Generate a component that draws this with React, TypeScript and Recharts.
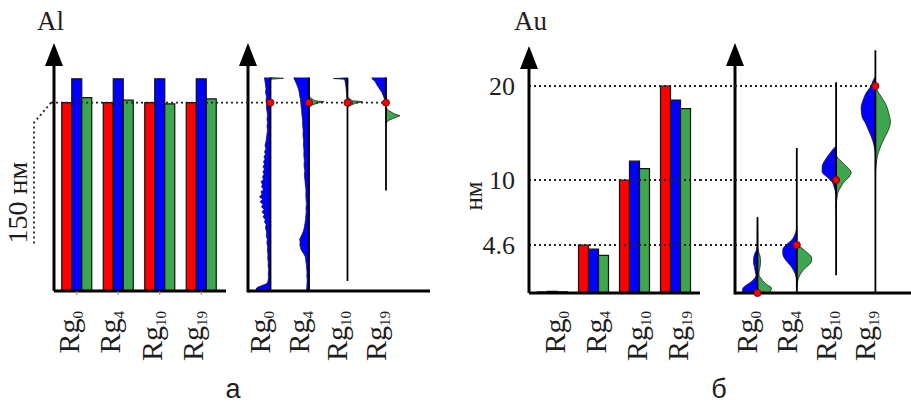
import React from "react";
import { BarChart, Bar, ComposedChart, Area, XAxis, YAxis, ReferenceLine, ReferenceDot } from "recharts";

const RED = "#ff0000";
const BLUE = "#0000ff";
const GREEN = "#3da64e";
const INK = "#1e1e1e";
const SERIF = "'Liberation Serif', 'DejaVu Serif', serif";
const SANS = "'Liberation Sans', Arial, sans-serif";
const DOTTED = { stroke: "#222", strokeWidth: 1.8, strokeDasharray: "2 3" };

const RG_SUBS = ["0", "4", "10", "19"];

// Al, nm
const AL_RED = [150, 150, 150, 150];
const AL_BLUE = [169, 169, 169, 169];
const AL_GREEN = [154, 152, 149, 153];
const AL_MEDIAN = [150, 150, 150, 150];
const AL_RANGE_LO = [0, 0, 8, 80];
const AL_RANGE_HI = [170, 170, 169.5, 170];

// violin halves: [nm, half width]
const AL_BLUE_SHAPES: [number, number][][] = [
  [[0, 14], [1.5, 14.5], [3, 13], [4.5, 8], [6, 3.5], [8, 2.5], [11, 2], [14, 2.2], [17, 1.8], [20, 2.4], [23, 2.2], [26, 2.8], [29, 2.5], [32, 3.2], [35, 2.8], [38, 3.6], [41, 3.2], [44, 4.2], [47, 3.8], [50, 5], [53, 4.4], [55, 6], [57, 5.2], [59, 7.5], [61, 6], [63, 8.5], [65, 6.5], [67, 9], [69, 7.5], [71, 10.5], [73, 8], [75, 11], [77, 8.5], [79, 9.5], [81, 7], [83, 9], [85, 8], [87, 9.5], [89, 7], [91, 8], [93, 6.5], [95, 7.5], [97, 6], [99, 7.5], [101, 6], [103, 7], [105, 5.5], [107, 6.5], [109, 5], [111, 6], [113, 4.5], [116, 5.5], [119, 4.5], [122, 4], [125, 3.5], [128, 3], [131, 3.5], [134, 3], [137, 3.5], [140, 3], [143, 3.5], [146, 4], [149, 4], [152, 4.5], [155, 4], [158, 5], [161, 4.5], [164, 5], [167, 5.5], [169, 6], [170, 6]],
  [[0, 2.5], [3, 2.2], [6, 2], [9, 1.8], [12, 2.2], [15, 2], [18, 2.4], [21, 2.6], [24, 3.2], [27, 3.6], [29, 4.8], [31, 6.5], [33, 8], [35, 8.6], [37, 9.2], [39, 8.8], [41, 9.4], [43, 8.2], [45, 7], [48, 5.5], [51, 4.6], [54, 4], [57, 3.4], [60, 3.2], [63, 2.8], [66, 3], [69, 2.6], [72, 2.8], [76, 3.2], [80, 3], [84, 3.6], [88, 4], [92, 4.6], [96, 4.2], [100, 5], [104, 4.6], [108, 5.2], [112, 5], [116, 5.6], [120, 5.4], [124, 6], [128, 5.8], [132, 6.4], [136, 6.4], [140, 7], [144, 7.4], [148, 8], [152, 8.4], [156, 9.4], [159, 10], [162, 11], [165, 12.6], [167, 13.6], [169, 15], [170, 15]],
  [[150, 0], [155, 0.8], [160, 1.2], [164, 1.8], [167, 2.4], [168.6, 3], [169.2, 14], [169.8, 0]],
  [[150, 0], [152, 1], [155, 2.5], [158, 4], [161, 6.5], [164, 9], [167, 11], [169, 14], [170, 14]],
];
const AL_GREEN_SHAPES: [number, number][][] = [
  [[168.6, 0], [169.4, 13], [170, 0]],
  [[146.5, 0], [148, 3], [149.5, 8], [150.8, 15], [151.6, 6], [153, 3], [155, 0]],
  [[146.5, 0], [148, 3.5], [149.5, 8], [150.8, 15], [151.6, 5], [153, 2.5], [155, 0]],
  [[133, 0], [134.8, 1], [136.4, 4], [138, 9], [139.6, 14], [141.2, 8], [143.6, 3], [146, 0]],
];

// Au, nm
const AU_RED = [0.1, 4.6, 10, 20];
const AU_BLUE = [0.15, 4.2, 12, 18.5];
const AU_GREEN = [0.12, 3.6, 11.2, 17.6];
const AU_MEDIAN = [0, 4.6, 10, 20];
const AU_RANGE_LO = [0, 0, 1.7, 0];
const AU_RANGE_HI = [6.9, 13.4, 20.4, 23.8];
const AU_TICKS = [4.6, 10, 20];
const AU_TICK_LABELS = ["4.6", "10", "20"];
// the Au axis is not uniform: these nm values sit at these heights
const AU_AXIS_NM = [0, 4.6, 10, 20];
const AU_AXIS_POS = [0, 48, 113, 207];

const AU_BLUE_SHAPES: [number, number][][] = [
  [[0, 15], [0.29, 15], [0.48, 14.5], [0.77, 11], [1.05, 6.5], [1.34, 3.5], [1.53, 2], [1.72, 1.5], [1.92, 2], [2.2, 2.5], [2.49, 3], [2.87, 4], [3.16, 4], [3.55, 3.5], [3.83, 2.5], [4.12, 1], [4.41, 0.5], [5.02, 0.3], [5.85, 0.2], [6.93, 0]],
  [[0.67, 0], [0.86, 0.1], [1.25, 0.2], [1.44, 0.6], [1.82, 1.5], [2.2, 3.5], [2.59, 6], [2.97, 9.5], [3.35, 12.5], [3.74, 14], [4.12, 14], [4.5, 12], [4.77, 8.5], [5.02, 5], [5.35, 2.5], [5.68, 1], [6.01, 0]],
  [[8.8, 0], [9.0, 0.5], [9.42, 2], [9.84, 4], [10.32, 9], [10.85, 14], [11.38, 14], [12.13, 11], [12.87, 6], [13.4, 2], [13.6, 0]],
  [[12.9, 0], [13.19, 0.5], [13.94, 2], [14.58, 4], [15.32, 7], [16.06, 10], [16.7, 13.3], [17.66, 14.3], [18.51, 12.3], [19.26, 9.3], [19.89, 5], [20.64, 2], [21.0, 0]],
];
const AU_GREEN_SHAPES: [number, number][][] = [
  [[0, 13], [0.29, 13.5], [0.48, 14], [0.77, 10], [1.05, 6.5], [1.34, 4], [1.53, 2.5], [1.72, 1.5], [1.92, 1.5], [2.2, 2], [2.49, 2.5], [2.87, 3], [3.16, 3], [3.55, 2.5], [3.83, 1.5], [4.12, 0.8], [4.41, 0.5], [5.02, 0.3], [5.85, 0.2], [6.93, 0]],
  [[0.19, 0], [0.48, 0.2], [0.86, 0.5], [1.25, 1.2], [1.63, 2.5], [2.01, 5], [2.4, 8.5], [2.68, 12], [2.97, 14.5], [3.35, 15], [3.74, 12], [4.02, 8.5], [4.31, 5], [4.6, 1.5], [4.77, 0]],
  [[7.6, 0], [8.09, 0.3], [8.59, 1], [9.0, 2], [9.42, 4.7], [9.84, 8], [10.32, 13], [10.85, 15], [11.38, 11], [11.91, 6], [12.45, 1], [12.7, 0]],
  [[10.8, 0], [11.06, 0.3], [11.81, 1], [12.66, 2.3], [13.51, 5], [14.47, 9], [15.32, 13], [16.17, 15], [17.13, 13.3], [17.98, 10.7], [18.83, 6], [19.58, 1.7], [20.0, 0]],
];

const auPos = (v: number) => {
  for (let i = 1; i < AU_AXIS_NM.length; i++) {
    if (v <= AU_AXIS_NM[i]) {
      const t = (v - AU_AXIS_NM[i - 1]) / (AU_AXIS_NM[i] - AU_AXIS_NM[i - 1]);
      return AU_AXIS_POS[i - 1] + t * (AU_AXIS_POS[i] - AU_AXIS_POS[i - 1]);
    }
  }
  const n = AU_AXIS_NM.length - 1;
  const slope = (AU_AXIS_POS[n] - AU_AXIS_POS[n - 1]) / (AU_AXIS_NM[n] - AU_AXIS_NM[n - 1]);
  return AU_AXIS_POS[n] + (v - AU_AXIS_NM[n]) * slope;
};
const ident = (v: number) => v;

const alRows = RG_SUBS.map((s, i) => ({ name: s, red: AL_RED[i], blue: AL_BLUE[i], green: AL_GREEN[i] }));
const auRows = RG_SUBS.map((s, i) => ({ name: s, red: AU_RED[i], blue: AU_BLUE[i], green: AU_GREEN[i] }));

const AXIS_LINE = { stroke: "#000", strokeWidth: 3 };

const rgTick = (top: number, shift: number) => (p: any) => {
  const v = p.payload.value;
  const sub = typeof v === "number" ? RG_SUBS[v] : v;
  return (
    <text transform={`translate(${p.x + shift},${top}) rotate(-90)`} textAnchor="end" fontFamily={SERIF} fontSize={30} fill={INK}>
      Rg<tspan fontSize={15} dy={4}>{sub}</tspan>
    </text>
  );
};

const arrowPath = (x: number, y: number) => `M${x - 9},${y + 1} L${x},${y - 22} L${x + 9},${y + 1} Z`;

const axisArrow = (p: any) => {
  const vb = p.viewBox || {};
  const x = (vb.x ?? 0) + (vb.width ?? 0);
  const y = vb.y ?? 0;
  return <path d={arrowPath(x, y)} fill="#000" />;
};

// value axis of a violin panel, drawn as a reference line with an arrow head
const violinAxis = (p: any) => {
  const { x1, y1, y2 } = p;
  const top = Math.min(y1, y2);
  const bottom = Math.max(y1, y2);
  return (
    <g>
      <line x1={x1} x2={x1} y1={top} y2={bottom + 1.5} stroke="#000" strokeWidth={3} />
      <path d={arrowPath(x1, top)} fill="#000" />
    </g>
  );
};

const bracket = (p: any) => {
  const { x1, y1, x2 } = p;
  return (
    <g>
      <path d={`M${x1 - 3},${y1} H${x2}`} fill="none" {...DOTTED} />
      <path d={`M${x1 - 3},${y1} L${x1 - 20},${y1 + 20} V${y1 + 142}`} fill="none" {...DOTTED} />
      <text transform={`translate(${x1 - 27},${y1 + 100}) rotate(-90)`} textAnchor="middle" fontFamily={SERIF} fontSize={28} fill={INK}>
        150 нм
      </text>
    </g>
  );
};

function violinAreas(blue: [number, number][][], green: [number, number][][], k: number, toY: (v: number) => number, curve: "linear" | "monotone") {
  const out: React.ReactNode[] = [];
  blue.forEach((shape, i) => {
    out.push(
      <Area key={`b${i}`} data={shape.map(([v, w]) => ({ y: toY(v), x: [i, i - w * k] }))} dataKey="x" type={curve}
        fill={BLUE} fillOpacity={1} stroke="#111" strokeWidth={0.7} dot={false} activeDot={false} isAnimationActive={false} />
    );
  });
  green.forEach((shape, i) => {
    out.push(
      <Area key={`g${i}`} data={shape.map(([v, w]) => ({ y: toY(v), x: [i, i + w * k] }))} dataKey="x" type={curve}
        fill={GREEN} fillOpacity={1} stroke="#111" strokeWidth={0.7} dot={false} activeDot={false} isAnimationActive={false} />
    );
  });
  return out;
}

function whiskers(lo: number[], hi: number[], toY: (v: number) => number) {
  return lo.map((l, i) => (
    <ReferenceLine key={`w${i}`} segment={[{ x: i, y: toY(l) }, { x: i, y: toY(hi[i]) }]} ifOverflow="visible" stroke="#000" strokeWidth={1.8} />
  ));
}

function medians(vals: number[], toY: (v: number) => number) {
  return vals.map((v, i) => (
    <ReferenceDot key={`m${i}`} x={i} y={toY(v)} r={3.5} fill={RED} stroke="#7a0000" strokeWidth={1} ifOverflow="visible" />
  ));
}

function AlBars() {
  return (
    <BarChart width={240} height={370} data={alRows} margin={{ top: 65, right: 14, bottom: 9, left: 4 }} barCategoryGap={5.75} barGap={0}>
      <XAxis dataKey="name" padding={{ left: 2, right: 4 }} axisLine={AXIS_LINE} tickLine={{ stroke: "#888" }} tickSize={4} height={70} interval={0} tick={rgTick(311, 2)} />
      <YAxis width={50} domain={[0, 180]} allowDataOverflow tick={false} tickLine={false} axisLine={AXIS_LINE} label={axisArrow} />
      <Bar dataKey="red" fill={RED} stroke="#111" strokeWidth={1.2} isAnimationActive={false} />
      <Bar dataKey="blue" fill={BLUE} stroke="#111" strokeWidth={1.2} isAnimationActive={false} />
      <Bar dataKey="green" fill={GREEN} stroke="#111" strokeWidth={1.2} isAnimationActive={false} />
      <ReferenceLine y={AL_MEDIAN[0]} ifOverflow="visible" shape={bracket} />
    </BarChart>
  );
}

const AL_X_DOMAIN = [-0.584, 4.143];

function AlViolins() {
  return (
    <ComposedChart layout="vertical" width={214} height={370} margin={{ top: 65, right: 10, bottom: 9, left: 22 }}>
      <XAxis type="number" domain={AL_X_DOMAIN} allowDataOverflow ticks={[0, 1, 2, 3]} interval={0} height={70} axisLine={AXIS_LINE} tickLine={false} tick={rgTick(311, 0)} />
      <YAxis type="number" dataKey="y" domain={[0, 180]} allowDataOverflow reversed width={0} hide />
      <ReferenceLine segment={[{ x: AL_X_DOMAIN[0], y: 0 }, { x: AL_X_DOMAIN[0], y: 180 }]} ifOverflow="visible" shape={violinAxis} />
      {violinAreas(AL_BLUE_SHAPES, AL_GREEN_SHAPES, 1 / 38.5, ident, "linear")}
      <ReferenceLine segment={[{ x: -1.156, y: AL_MEDIAN[3] }, { x: 3, y: AL_MEDIAN[3] }]} ifOverflow="visible" {...DOTTED} />
      {whiskers(AL_RANGE_LO, AL_RANGE_HI, ident)}
      {medians(AL_MEDIAN, ident)}
    </ComposedChart>
  );
}

function AuBars() {
  return (
    <BarChart width={250} height={370} data={auRows} margin={{ top: 68, right: 10, bottom: 7, left: 9 }} barCategoryGap={5.5} barGap={0}>
      <XAxis dataKey="name" padding={{ left: 3, right: 4 }} axisLine={AXIS_LINE} tickLine={false} height={70} interval={0} tick={rgTick(311, 12)} />
      <YAxis width={60} domain={[0, 225]} allowDataOverflow ticks={AU_TICKS.map(auPos)} interval={0}
        tickFormatter={(u: number) => AU_TICK_LABELS[AU_TICKS.findIndex((t) => Math.abs(auPos(t) - u) < 0.01)] ?? ""}
        tick={{ fontFamily: SERIF, fontSize: 26, fill: INK }} tickLine={false} tickSize={0} tickMargin={14} axisLine={AXIS_LINE} label={axisArrow} />
      <Bar dataKey={(d: any) => auPos(d.red)} fill={RED} stroke="#111" strokeWidth={1.2} isAnimationActive={false} />
      <Bar dataKey={(d: any) => auPos(d.blue)} fill={BLUE} stroke="#111" strokeWidth={1.2} isAnimationActive={false} />
      <Bar dataKey={(d: any) => auPos(d.green)} fill={GREEN} stroke="#111" strokeWidth={1.2} isAnimationActive={false} />
      {AU_TICKS.map((t) => (
        <ReferenceLine key={t} y={auPos(t)} ifOverflow="visible" {...DOTTED} />
      ))}
    </BarChart>
  );
}

const AU_X_DOMAIN = [-0.5725, 3.906];

function AuViolins() {
  return (
    <ComposedChart layout="vertical" width={211} height={370} margin={{ top: 65, right: 0, bottom: 7, left: 35 }}>
      <XAxis type="number" domain={AU_X_DOMAIN} allowDataOverflow ticks={[0, 1, 2, 3]} interval={0} height={70} axisLine={AXIS_LINE} tickLine={false} tick={rgTick(311, 0)} />
      <YAxis type="number" dataKey="y" domain={[0, 228]} allowDataOverflow reversed width={0} hide />
      <ReferenceLine segment={[{ x: AU_X_DOMAIN[0], y: 0 }, { x: AU_X_DOMAIN[0], y: 228 }]} ifOverflow="visible" shape={violinAxis} />
      {violinAreas(AU_BLUE_SHAPES, AU_GREEN_SHAPES, 1 / 39.3, auPos, "monotone")}
      {AU_TICKS.map((t) => (
        <ReferenceLine key={`d${t}`} segment={[{ x: -1.463, y: auPos(t) }, { x: AU_MEDIAN.indexOf(t), y: auPos(t) }]} ifOverflow="visible" {...DOTTED} />
      ))}
      {whiskers(AU_RANGE_LO, AU_RANGE_HI, auPos)}
      {medians(AU_MEDIAN, auPos)}
    </ComposedChart>
  );
}

const abs = (left: number): React.CSSProperties => ({ position: "absolute", left, top: 0 });

export default function App() {
  return (
    <div style={{ position: "absolute", left: 0, top: 0, width: 911, height: 403, background: "#fff", overflow: "hidden" }}>
      <div style={abs(0)}><AlBars /></div>
      <div style={abs(226)}><AlViolins /></div>
      <div style={abs(460)}><AuBars /></div>
      <div style={abs(700)}><AuViolins /></div>
      <svg width={911} height={403} style={{ position: "absolute", left: 0, top: 0, pointerEvents: "none" }}>
        <text x={37} y={30} fontFamily={SERIF} fontSize={27} fill={INK}>Al</text>
        <text x={514} y={30} fontFamily={SERIF} fontSize={27} fill={INK}>Au</text>
        <text transform="translate(482,196) rotate(-90)" textAnchor="middle" fontFamily={SERIF} fontSize={25} fill={INK}>нм</text>
        <text x={233} y={398} textAnchor="middle" fontFamily={SANS} fontSize={27} fill={INK}>а</text>
        <text x={719} y={398} textAnchor="middle" fontFamily={SANS} fontSize={27} fill={INK}>б</text>
      </svg>
    </div>
  );
}
